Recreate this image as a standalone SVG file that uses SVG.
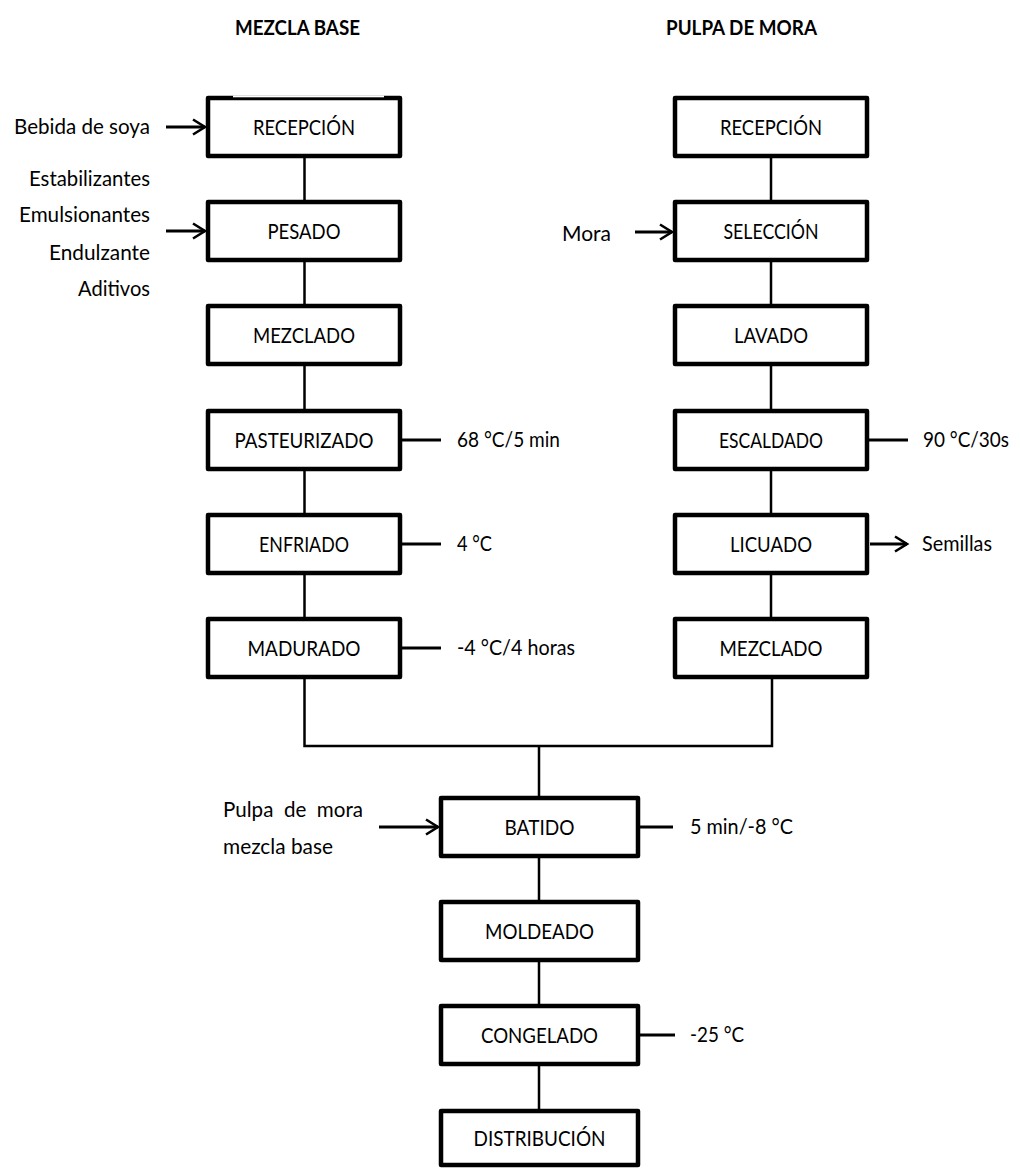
<svg xmlns="http://www.w3.org/2000/svg" width="1020" height="1168" viewBox="0 0 1020 1168">
<style>
.box{fill:#fff;stroke:#000;stroke-width:4.5;stroke-linejoin:round}
text{font-family:Lato,"Liberation Sans",sans-serif;font-size:21.5px;fill:#000}
.c{text-anchor:middle}
.r{text-anchor:end}
.hdr{font-weight:bold}
.ln{stroke:#000;stroke-width:2.5;fill:none}
.ar{stroke:#000;stroke-width:3;fill:none}
</style>
<defs>
<marker id="arr" markerUnits="userSpaceOnUse" viewBox="0 0 16 18" markerWidth="16" markerHeight="18" refX="13.5" refY="9" orient="auto" overflow="visible">
<path d="M1.5,1.5 L13.5,9 L1.5,16.5" fill="none" stroke="#000" stroke-width="2.6"/>
</marker>
</defs>
<rect width="1020" height="1168" fill="#fff"/>

<g id="headers">
<text class="hdr" x="235" y="35" textLength="125" lengthAdjust="spacingAndGlyphs">MEZCLA BASE</text>
<text class="hdr" x="666" y="35" textLength="151" lengthAdjust="spacingAndGlyphs">PULPA DE MORA</text>
</g>

<g id="connectors">
<path class="ln" d="M304.5,158V200M304.5,262V304M304.5,366V409M304.5,471V513M304.5,575V617"/>
<path class="ln" d="M771,158V200M771,262V304M771,366V409M771,471V513M771,575V617"/>
<path class="ln" d="M304.5,679V746H772V679M539,746V796"/>
<path class="ln" d="M539,858V900M539,962V1004M539,1066V1109"/>
<path class="ar" d="M166,127H205" marker-end="url(#arr)"/>
<path class="ar" d="M166,231H205" marker-end="url(#arr)"/>
<path class="ar" d="M635,232H672" marker-end="url(#arr)"/>
<path class="ar" d="M379,827H438" marker-end="url(#arr)"/>
<path class="ar" d="M870,544H907" marker-end="url(#arr)"/>
<path class="ar" d="M402,440H441M402,544H441M402,648H441M869,440H908M640,827H673M640,1035H675"/>
</g>

<g id="inputs">
<text class="r" x="150" y="134" textLength="136" lengthAdjust="spacingAndGlyphs">Bebida de soya</text>
<text class="r" x="150" y="186" textLength="121" lengthAdjust="spacingAndGlyphs">Estabilizantes</text>
<text class="r" x="150" y="222" textLength="131" lengthAdjust="spacingAndGlyphs">Emulsionantes</text>
<text class="r" x="150" y="260" textLength="101" lengthAdjust="spacingAndGlyphs">Endulzante</text>
<text class="r" x="150" y="296" textLength="72" lengthAdjust="spacingAndGlyphs">Aditivos</text>
<text x="562" y="241" textLength="49" lengthAdjust="spacingAndGlyphs">Mora</text>
<text x="223" y="817" xml:space="preserve" textLength="140" lengthAdjust="spacingAndGlyphs">Pulpa  de  mora</text>
<text x="223" y="854" textLength="110" lengthAdjust="spacingAndGlyphs">mezcla base</text>
<text x="922" y="551" textLength="70" lengthAdjust="spacingAndGlyphs">Semillas</text>
</g>

<g id="conditions">
<text x="457" y="447" textLength="103" lengthAdjust="spacingAndGlyphs">68 °C/5 min</text>
<text x="457" y="551" textLength="35" lengthAdjust="spacingAndGlyphs">4 °C</text>
<text x="457" y="655" textLength="118" lengthAdjust="spacingAndGlyphs">-4 °C/4 horas</text>
<text x="923" y="447" textLength="86" lengthAdjust="spacingAndGlyphs">90 °C/30s</text>
<text x="690" y="834" textLength="103" lengthAdjust="spacingAndGlyphs">5 min/-8 °C</text>
<text x="690" y="1042" textLength="54" lengthAdjust="spacingAndGlyphs">-25 °C</text>
</g>

<g id="n-recepcion-base"><rect class="box" x="208" y="98" width="192" height="58"/><rect x="233" y="95.5" width="151" height="1.8" fill="#fff"/><text class="c" x="304" y="134.5" textLength="102" lengthAdjust="spacingAndGlyphs">RECEPCIÓN</text></g>
<g id="n-pesado"><rect class="box" x="208" y="202" width="192" height="58"/><text class="c" x="304" y="238.5" textLength="73" lengthAdjust="spacingAndGlyphs">PESADO</text></g>
<g id="n-mezclado-base"><rect class="box" x="208" y="306" width="192" height="58"/><text class="c" x="304" y="342.5" textLength="102" lengthAdjust="spacingAndGlyphs">MEZCLADO</text></g>
<g id="n-pasteurizado"><rect class="box" x="208" y="411" width="192" height="58"/><text class="c" x="304" y="447.5" textLength="139" lengthAdjust="spacingAndGlyphs">PASTEURIZADO</text></g>
<g id="n-enfriado"><rect class="box" x="208" y="515" width="192" height="58"/><text class="c" x="304" y="551.5" textLength="90" lengthAdjust="spacingAndGlyphs">ENFRIADO</text></g>
<g id="n-madurado"><rect class="box" x="208" y="619" width="192" height="58"/><text class="c" x="304" y="655.5" textLength="113" lengthAdjust="spacingAndGlyphs">MADURADO</text></g>

<g id="n-recepcion-mora"><rect class="box" x="675" y="98" width="192" height="58"/><text class="c" x="771" y="134.5" textLength="102" lengthAdjust="spacingAndGlyphs">RECEPCIÓN</text></g>
<g id="n-seleccion"><rect class="box" x="675" y="202" width="192" height="58"/><text class="c" x="771" y="238.5" textLength="95" lengthAdjust="spacingAndGlyphs">SELECCIÓN</text></g>
<g id="n-lavado"><rect class="box" x="675" y="306" width="192" height="58"/><text class="c" x="771" y="342.5" textLength="74" lengthAdjust="spacingAndGlyphs">LAVADO</text></g>
<g id="n-escaldado"><rect class="box" x="675" y="411" width="192" height="58"/><text class="c" x="771" y="447.5" textLength="104" lengthAdjust="spacingAndGlyphs">ESCALDADO</text></g>
<g id="n-licuado"><rect class="box" x="675" y="515" width="192" height="58"/><text class="c" x="771" y="551.5" textLength="82" lengthAdjust="spacingAndGlyphs">LICUADO</text></g>
<g id="n-mezclado-mora"><rect class="box" x="675" y="619" width="192" height="58"/><text class="c" x="771" y="655.5" textLength="103" lengthAdjust="spacingAndGlyphs">MEZCLADO</text></g>

<g id="n-batido"><rect class="box" x="441" y="798" width="197" height="58"/><text class="c" x="539.5" y="834.5" textLength="70" lengthAdjust="spacingAndGlyphs">BATIDO</text></g>
<g id="n-moldeado"><rect class="box" x="441" y="902" width="197" height="58"/><text class="c" x="539.5" y="938.5" textLength="109" lengthAdjust="spacingAndGlyphs">MOLDEADO</text></g>
<g id="n-congelado"><rect class="box" x="441" y="1006" width="197" height="58"/><text class="c" x="539.5" y="1042.5" textLength="117" lengthAdjust="spacingAndGlyphs">CONGELADO</text></g>
<g id="n-distribucion"><rect class="box" x="441" y="1111" width="197" height="54"/><text class="c" x="539.5" y="1145.5" textLength="132" lengthAdjust="spacingAndGlyphs">DISTRIBUCIÓN</text></g>
</svg>
